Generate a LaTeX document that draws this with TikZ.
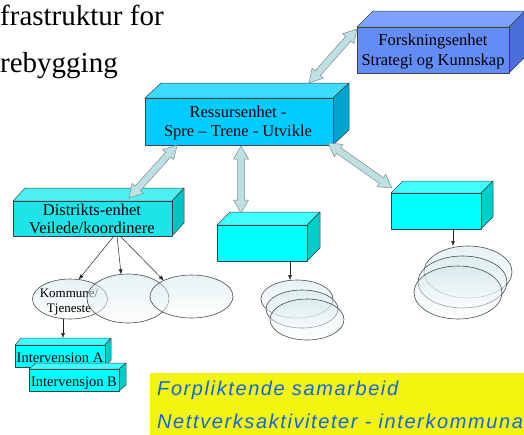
\documentclass[tikz,border=0pt]{standalone}
\usepackage{fontspec}
\setmainfont{Liberation Serif}
\newfontfamily\yfont[LetterSpace=8]{Liberation Sans}
\usetikzlibrary{shapes.geometric,fit,arrows.meta,calc}
\definecolor{forskF}{HTML}{648CF5}
\definecolor{forskT}{HTML}{7EA3FF}
\definecolor{forskS}{HTML}{4A6FD8}
\definecolor{resF}{HTML}{00CCFF}
\definecolor{resT}{HTML}{3DDBFF}
\definecolor{resS}{HTML}{00A3CC}
\definecolor{disF}{HTML}{1EE3E8}
\definecolor{disT}{HTML}{4DF0F0}
\definecolor{disS}{HTML}{00C4C4}
\definecolor{cyF}{HTML}{00FFFF}
\definecolor{cyT}{HTML}{40FFFF}
\definecolor{cyS}{HTML}{00CCCC}
\definecolor{arrowfill}{HTML}{BFE0E3}
\definecolor{arrowline}{HTML}{7F8C8D}
\definecolor{ellblue}{HTML}{CFE6EA}
\definecolor{ylw}{HTML}{F2F510}
\definecolor{ytxt}{HTML}{1565E0}
\tikzset{
  edge/.style={draw=black!75, line width=0.5pt, line join=round},
  lbl/.style={anchor=base, inner sep=0pt, font=\fontsize{16.5}{19}\selectfont},
  smalllbl/.style={anchor=base, inner sep=0pt, font=\fontsize{13}{15}\selectfont},
  intlbl/.style={anchor=base, inner sep=0pt, font=\fontsize{14.5}{16}\selectfont},
  thinarrow/.style={draw=black!85, line width=0.5pt, -{Latex[length=5pt,width=4pt]}},
  blk/.style={draw=arrowline, line width=0.5pt, fill=arrowfill, line join=miter},
  ell/.style={ellipse, draw=black!70, line width=0.6pt, inner sep=0pt, outer sep=0pt,
    top color=ellblue, bottom color=white, fill opacity=0.5},
}
\newcommand\cuboid[8]{%
  \path #2 coordinate (#1-tl) #3 coordinate (#1-br);
  \node[fit=(#1-tl)(#1-br), inner sep=0pt, outer sep=0pt] (#1) {};
  \draw[edge, fill=#7] (#1.north west) -- ++(#4pt,#5pt) -- ([shift={(#4pt,#5pt)}]#1.north east) -- (#1.north east) -- cycle;
  \draw[edge, fill=#8] (#1.north east) -- ++(#4pt,#5pt) -- ([shift={(#4pt,#5pt)}]#1.south east) -- (#1.south east) -- cycle;
  \draw[edge, fill=#6] (#1.south west) rectangle (#1.north east);
}
\newcommand\dblarrow[2]{%
  \path let \p1=(#1), \p2=(#2) in \pgfextra{\pgfmathparse{atan2(\y2-\y1,\x2-\x1)}\xdef\baang{\pgfmathresult}\pgfmathparse{veclen(\x2-\x1,\y2-\y1)}\xdef\balen{\pgfmathresult}};
  \draw[blk, shift={(#1)}, rotate=\baang] (0pt,0pt) -- (13pt,7.5pt) -- (13pt,3.5pt) -- ({\balen pt-13pt},3.5pt) -- ({\balen pt-13pt},7.5pt) -- (\balen pt,0pt) -- ({\balen pt-13pt},-7.5pt) -- ({\balen pt-13pt},-3.5pt) -- (13pt,-3.5pt) -- (13pt,-7.5pt) -- cycle;
}
\begin{document}
\begin{tikzpicture}[x=1pt,y=-1pt]
\useasboundingbox[fill=white] (0,0) rectangle (524,434);
% title
\node[anchor=base west, inner sep=0pt, font=\fontsize{29}{30}\selectfont] (t1) at (0,25) {frastruktur for};
\node[anchor=base west, inner sep=0pt, font=\fontsize{29}{30}\selectfont] (t2) at (0,72) {rebygging};
% boxes
\cuboid{forsk}{(357,27)}{(509,73)}{16}{16}{forskF}{forskT}{forskS}
\node[lbl] (forsk1) at (433,45.5) {Forskningsenhet};
\node[lbl] (forsk2) at (433,65) {Strategi og Kunnskap};
\cuboid{res}{(145,98)}{(333,145)}{16}{15}{resF}{resT}{resS}
\node[lbl] (res1) at (238,117) {Ressursenhet -};
\node[lbl] (res2) at (238,136) {Spre -- Trene - Utvikle};
\cuboid{dis}{(13,201)}{(172,236)}{12}{13}{disF}{disT}{disS}
\node[lbl] (dis1) at (92,215) {Distrikts-enhet};
\node[lbl] (dis2) at (92,233) {Veilede/koordinere};
\cuboid{mid}{(217,225)}{(307,261)}{13}{13}{cyF}{cyT}{cyS}
\cuboid{rgt}{(391,193)}{(481,229)}{12}{12}{cyF}{cyT}{cyS}
% left ellipses
\node[ell, minimum width=75pt, minimum height=40pt] (kom) at (70,299) {};
\node[smalllbl] (kom1) at (69,297) {Kommune/};
\node[smalllbl] (kom2) at (69,312) {Tjeneste};
\node[ell, minimum width=82pt, minimum height=49pt] (le2) at (128,298.5) {};
\node[ell, minimum width=83pt, minimum height=43pt] (le3) at (191.5,296.5) {};
% middle ellipses
\node[ell, minimum width=72pt, minimum height=38pt] (me1) at (297,299) {};
\node[ell, minimum width=72pt, minimum height=38pt] (me2) at (302,309) {};
\node[ell, minimum width=74pt, minimum height=41pt] (me3) at (307,319.5) {};
% right ellipses
\node[ell, minimum width=88pt, minimum height=52pt] (re1) at (468,272) {};
\node[ell, minimum width=89pt, minimum height=52pt] (re2) at (462.5,282) {};
\node[ell, minimum width=88pt, minimum height=53pt] (re3) at (458,292.5) {};
% intervention boxes
\cuboid{ia}{(15,345)}{(105,367)}{6}{7}{cyF}{cyT}{cyS}
\node[intlbl] (ia1) at (60,362) {Intervension A};
\cuboid{ib}{(29,369)}{(119,391)}{7}{6}{cyF}{cyT}{cyS}
\node[intlbl] (ib1) at (74,386) {Intervensjon B};
% thin arrows
\coordinate (d1) at (114,236);
\coordinate (d2) at (117,236);
\coordinate (d3) at (120,236);
\draw[thinarrow] (d1) -- (kom.66);
\draw[thinarrow] (d2) -- (le2.106);
\draw[thinarrow] (d3) -- (le3.150);
\coordinate (kout) at (63,318.5);
\coordinate (iain) at (63,338);
\draw[thinarrow] (kout) -- (iain);
\coordinate (mout) at (290,261);
\draw[thinarrow] (mout) -- (mout |- me1.north);
\coordinate (rout) at (453,229);
\draw[thinarrow] (rout) -- (rout |- re1.north);
% block double arrows
\coordinate (a1a) at (309,83);
\coordinate (a1b) at (357,29);
\coordinate (a2a) at (177,145);
\coordinate (a2b) at (129,198);
\coordinate (a3a) at (241,146);
\coordinate (a3b) at (241,213);
\coordinate (a4a) at (328,143);
\coordinate (a4b) at (392,188);
\dblarrow{a1a}{a1b}
\dblarrow{a2a}{a2b}
\dblarrow{a3a}{a3b}
\dblarrow{a4a}{a4b}
% yellow box
\coordinate (y1) at (150,373);
\coordinate (y2) at (530,440);
\fill[ylw] (y1) rectangle (y2);
\node[anchor=base west, inner sep=0pt, text=ytxt, font=\yfont\itshape\fontsize{20}{22}\selectfont] (yt1) at (157,395) {Forpliktende samarbeid};
\node[anchor=base west, inner sep=0pt, text=ytxt, font=\yfont\itshape\fontsize{20}{22}\selectfont] (yt2) at (157,428) {Nettverksaktiviteter - interkommunale};
\end{tikzpicture}
\end{document}
